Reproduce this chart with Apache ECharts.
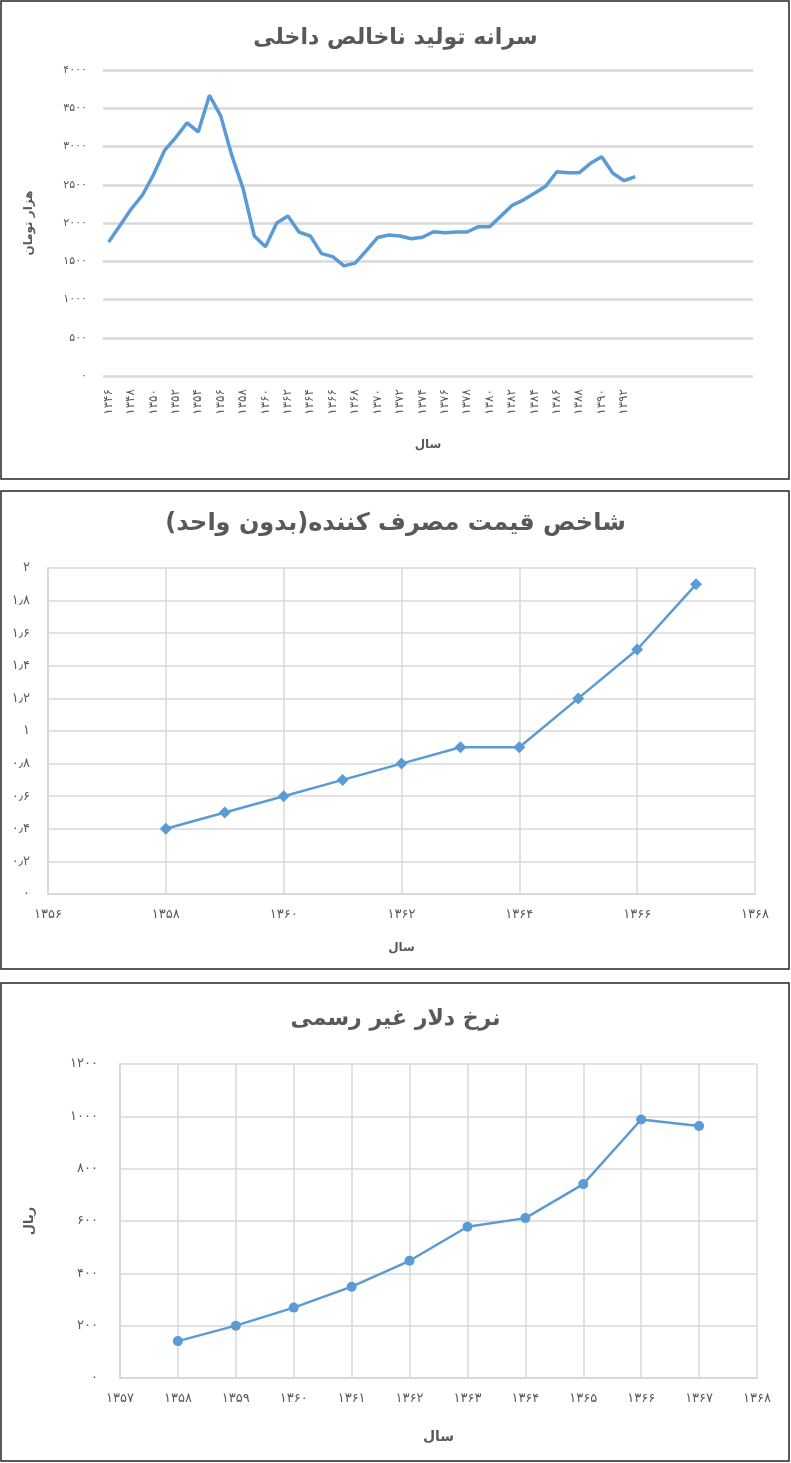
<!DOCTYPE html>
<html><head><meta charset="utf-8">
<script src="https://cdn.jsdelivr.net/npm/echarts@6/dist/echarts.min.js"></script>
<style>html,body{margin:0;padding:0;background:#fff}#c{width:791px;height:1463px}</style>
</head><body><div id="c"></div>
<script>
// ---- Chart 1: GDP per capita (thousand toman)
const gdpYears = [1346,1347,1348,1349,1350,1351,1352,1353,1354,1355,1356,1357,1358,1359,1360,1361,1362,1363,1364,1365,1366,1367,1368,1369,1370,1371,1372,1373,1374,1375,1376,1377,1378,1379,1380,1381,1382,1383,1384,1385,1386,1387,1388,1389,1390,1391,1392,1393];
const gdpValues = [1750,1965,2180,2360,2630,2950,3120,3310,3190,3670,3400,2880,2450,1830,1690,2000,2090,1880,1830,1600,1560,1440,1475,1640,1810,1843,1830,1795,1813,1886,1873,1882,1882,1952,1952,2090,2230,2300,2390,2480,2670,2658,2658,2780,2867,2650,2553,2605];
const gdpEmptySlots = 10;
// ---- Chart 2: CPI (no unit)
const cpiYears = [1358,1359,1360,1361,1362,1363,1364,1365,1366,1367];
const cpiValues = [0.4,0.5,0.6,0.7,0.8,0.9,0.9,1.2,1.5,1.9];
// ---- Chart 3: unofficial dollar rate (rial)
const usdYears = [1358,1359,1360,1361,1362,1363,1364,1365,1366,1367];
const usdValues = [141,200,269,349,448,578,611,741,988,963];

const titles = ['سرانه تولید ناخالص داخلی','شاخص قیمت مصرف کننده(بدون واحد)','نرخ دلار غیر رسمی'];
const yearName = 'سال';
const gdpUnit = 'هزار تومان';
const usdUnit = 'ریال';

const FA = '۰۱۲۳۴۵۶۷۸۹';
function fa(v){ return String(v).replace(/\d/g, d => FA[d]).replace('.', '٫'); }

const gdpCats = gdpYears.map(fa);
for (let i = 0; i < gdpEmptySlots; i++) gdpCats.push(' '.repeat(i + 1));

const FONT = 'DejaVu Sans';
const TXT = '#595959';
const GRID = '#D9D9D9';
const BLUE = '#5B9BD5';

const chart = echarts.init(document.getElementById('c'), null, {renderer:'canvas'});
chart.setOption({
  animation:false,
  textStyle:{fontFamily:FONT},
  title: titles.map((t,i)=>({
    text:t, left:'center', top:[22,507,1003][i],
    textStyle:{fontFamily:FONT, fontSize:[22,24,22][i], fontWeight:'bold', color:TXT}
  })),
  graphic:[0,1,2].map(i=>({
    type:'rect', silent:true, z:-1,
    shape:{x:1, y:[1,491,983][i], width:788, height:478},
    style:{fill:'none', stroke:'#262626', lineWidth:1.5}
  })),
  grid:[
    {left:103, top:70, width:650, height:306},
    {left:48, top:568, width:707, height:326},
    {left:120, top:1064, width:637, height:314}
  ],
  xAxis:[
    {gridIndex:0, type:'category', data:gdpCats, boundaryGap:true,
     name:yearName, nameLocation:'middle', nameGap:63,
     nameTextStyle:{fontFamily:FONT, fontSize:12, fontWeight:'bold', color:TXT},
     axisLine:{show:false}, axisTick:{show:false},
     axisLabel:{interval:1, rotate:90, margin:13, fontFamily:FONT, fontSize:12, color:TXT},
     splitLine:{show:false}},
    {gridIndex:1, type:'value', min:1356, max:1368, interval:2,
     name:yearName, nameLocation:'middle', nameGap:48,
     nameTextStyle:{fontFamily:FONT, fontSize:12, fontWeight:'bold', color:TXT},
     axisLine:{show:true, lineStyle:{color:GRID, width:2}}, axisTick:{show:false},
     axisLabel:{margin:14, fontFamily:FONT, fontSize:13, color:TXT, formatter:v=>fa(v)},
     splitLine:{show:true, lineStyle:{color:GRID, width:1.5}}},
    {gridIndex:2, type:'value', min:1357, max:1368, interval:1,
     name:yearName, nameLocation:'middle', nameGap:52,
     nameTextStyle:{fontFamily:FONT, fontSize:14, fontWeight:'bold', color:TXT},
     axisLine:{show:true, lineStyle:{color:GRID, width:2}}, axisTick:{show:false},
     axisLabel:{margin:14, fontFamily:FONT, fontSize:13, color:TXT, formatter:v=>fa(v)},
     splitLine:{show:true, lineStyle:{color:GRID, width:1.5}}}
  ],
  yAxis:[
    {gridIndex:0, type:'value', min:0, max:4000, interval:500,
     name:gdpUnit, nameLocation:'middle', nameGap:68, nameRotate:90,
     nameTextStyle:{fontFamily:FONT, fontSize:12, fontWeight:'bold', color:TXT},
     axisLine:{show:false}, axisTick:{show:false},
     axisLabel:{margin:16, fontFamily:FONT, fontSize:11, color:TXT, formatter:v=>fa(v)},
     splitLine:{show:true, lineStyle:{color:GRID, width:2.5}}},
    {gridIndex:1, type:'value', min:0, max:2, interval:0.2,
     axisLine:{show:true, lineStyle:{color:GRID, width:2}}, axisTick:{show:false},
     axisLabel:{margin:18, fontFamily:FONT, fontSize:13, color:TXT, formatter:v=>fa(+v.toFixed(1))},
     splitLine:{show:true, lineStyle:{color:GRID, width:1.5}}},
    {gridIndex:2, type:'value', min:0, max:1200, interval:200,
     name:usdUnit, nameLocation:'middle', nameGap:84, nameRotate:90,
     nameTextStyle:{fontFamily:FONT, fontSize:13, fontWeight:'bold', color:TXT},
     axisLine:{show:true, lineStyle:{color:GRID, width:2}}, axisTick:{show:false},
     axisLabel:{margin:22, fontFamily:FONT, fontSize:13, color:TXT, formatter:v=>fa(v)},
     splitLine:{show:true, lineStyle:{color:GRID, width:1.5}}}
  ],
  series:[
    {type:'line', xAxisIndex:0, yAxisIndex:0, data:gdpValues, showSymbol:false, symbol:'none',
     lineStyle:{color:BLUE, width:3.5}, itemStyle:{color:BLUE}},
    {type:'line', xAxisIndex:1, yAxisIndex:1, data:cpiYears.map((y,i)=>[y,cpiValues[i]]),
     symbol:'diamond', symbolSize:12, lineStyle:{color:BLUE, width:2.5}, itemStyle:{color:BLUE}},
    {type:'line', xAxisIndex:2, yAxisIndex:2, data:usdYears.map((y,i)=>[y,usdValues[i]]),
     symbol:'circle', symbolSize:10, lineStyle:{color:BLUE, width:2.5}, itemStyle:{color:BLUE}}
  ]
});
</script></body></html>
